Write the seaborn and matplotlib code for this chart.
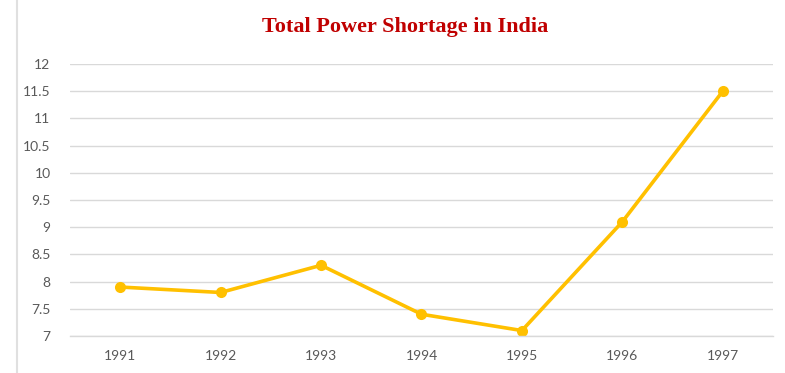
import matplotlib
matplotlib.use("Agg")
import matplotlib.pyplot as plt
import seaborn as sns
import pandas as pd
from matplotlib.lines import Line2D

years = ["1991", "1992", "1993", "1994", "1995", "1996", "1997"]
shortage = [7.9, 7.8, 8.3, 7.4, 7.1, 9.1, 11.5]
yticks = [7, 7.5, 8, 8.5, 9, 9.5, 10, 10.5, 11, 11.5, 12]
ytick_labels = ["7", "7.5", "8", "8.5", "9", "9.5", "10", "10.5", "11", "11.5", "12"]

df = pd.DataFrame({"year": years, "shortage": shortage})

sns.set_style("white")
plt.rcParams["font.family"] = ["Lato", "DejaVu Sans"]
W, H = 785, 373
fig = plt.figure(figsize=(W / 100, H / 100), dpi=100)
ax = fig.add_axes([70 / W, 1 - 336 / H, (773 - 70) / W, (336 - 64) / H])

sns.lineplot(data=df, x="year", y="shortage", ax=ax, color="#FFC000",
             linewidth=2.6, marker="o", markersize=8, markeredgewidth=0, sort=False)

ax.set_xlim(-0.5, len(years) - 0.5)
ax.set_ylim(7, 12)
ax.set_yticks(yticks)
ax.set_yticklabels(ytick_labels)
ax.yaxis.grid(True, color="#D9D9D9", linewidth=1)
ax.xaxis.grid(False)
ax.set_axisbelow(True)
for s in ["top", "right", "left"]:
    ax.spines[s].set_visible(False)
ax.spines["bottom"].set_color("#D9D9D9")
ax.spines["bottom"].set_linewidth(1)
ax.tick_params(axis="both", length=0, labelsize=10, labelcolor="#595959", pad=10)
ax.tick_params(axis="y", pad=14)
ax.set_xlabel("")
ax.set_ylabel("")

fig.text(405 / W, 1 - 27 / H, "Total Power Shortage in India", ha="center", va="center",
         fontsize=16, fontweight="bold", color="#C00000", family="Liberation Serif")

fig.add_artist(Line2D([17 / W, 17 / W], [0, 1], transform=fig.transFigure,
                      color="#E0E0E0", linewidth=1.5))

fig.savefig("out.png", dpi=100)
